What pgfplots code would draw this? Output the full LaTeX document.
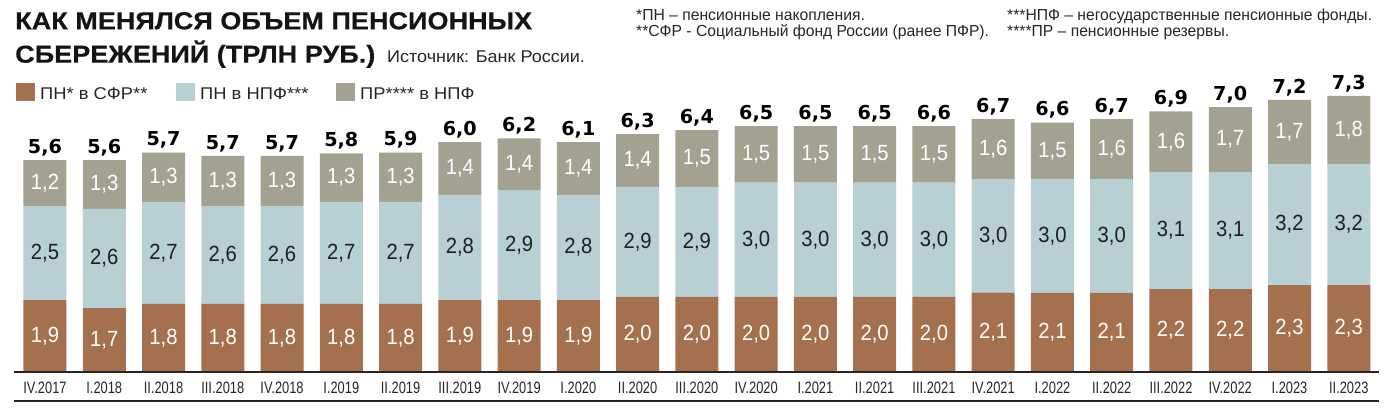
\documentclass[border=0pt]{standalone}
\usepackage{fontspec}
\setmainfont{Liberation Sans}
\newfontfamily\condfont[FakeStretch=0.78]{Liberation Sans}
\newfontfamily\notefont[FakeStretch=0.98]{Liberation Sans}
\newfontfamily\legfont[FakeStretch=1.08]{Liberation Sans}
\newfontfamily\srcfont[FakeStretch=1.06]{Liberation Sans}
\newfontfamily\segfont[FakeStretch=0.92]{Liberation Sans}
\newfontfamily\titlefont[FakeStretch=1.1, BoldFeatures={FakeBold=0.4}]{Liberation Sans}
\newfontfamily\totfont{DejaVu Sans}
\usepackage{pgfplots}
\usepackage{pgfplotstable}
\pgfplotsset{compat=1.18}
\definecolor{cbrown}{HTML}{A5704D}
\definecolor{cblue}{HTML}{B8CFD3}
\definecolor{cgray}{HTML}{A3A190}

\pgfplotstableread{
i  a     b     c     la  lb  lc  lt  tick
0  1.894 2.480 1.215 1,9 2,5 1,2 5,6 IV.2017
1  1.680 2.620 1.290 1,7 2,6 1,3 5,6 I.2018
2  1.789 2.695 1.302 1,8 2,7 1,3 5,7 II.2018
3  1.789 2.589 1.321 1,8 2,6 1,3 5,7 III.2018
4  1.789 2.589 1.321 1,8 2,6 1,3 5,7 IV.2018
5  1.789 2.695 1.287 1,8 2,7 1,3 5,8 I.2019
6  1.789 2.695 1.302 1,8 2,7 1,3 5,9 II.2019
7  1.894 2.774 1.400 1,9 2,8 1,4 6,0 III.2019
8  1.894 2.888 1.384 1,9 2,9 1,4 6,2 IV.2019
9  1.894 2.774 1.400 1,9 2,8 1,4 6,1 I.2020
10 1.980 2.906 1.392 2,0 2,9 1,4 6,3 II.2020
11 1.980 2.906 1.498 2,0 2,9 1,5 6,4 III.2020
12 1.980 3.012 1.498 2,0 3,0 1,5 6,5 IV.2020
13 1.980 3.012 1.498 2,0 3,0 1,5 6,5 I.2021
14 1.980 3.012 1.498 2,0 3,0 1,5 6,5 II.2021
15 1.980 3.012 1.498 2,0 3,0 1,5 6,6 III.2021
16 2.087 3.004 1.585 2,1 3,0 1,6 6,7 IV.2021
17 2.080 3.010 1.490 2,1 3,0 1,5 6,6 I.2022
18 2.080 3.010 1.580 2,1 3,0 1,6 6,7 II.2022
19 2.180 3.090 1.610 2,2 3,1 1,6 6,9 III.2022
20 2.180 3.090 1.720 2,2 3,1 1,7 7,0 IV.2022
21 2.290 3.200 1.690 2,3 3,2 1,7 7,2 I.2023
22 2.290 3.200 1.800 2,3 3,2 1,8 7,3 II.2023
}\data

\pgfplotsset{
  myaxis/.style={
    at={(14pt,44.3pt)}, anchor=south west,
    scale only axis, width=1365pt, height=311.7pt,
    xmin=-0.523, xmax=22.51, ymin=0, ymax=8.235,
    hide axis, clip=false,
  },
  mylab/.style={draw=none, mark=none, nodes near coords,
    point meta=explicit symbolic,
    every node near coord/.append style={inner sep=0pt}},
}

\begin{document}
\begin{tikzpicture}
\path (0,0) rectangle (1399pt,416pt);
% header
\node[anchor=base west, inner sep=0pt, text=black!92, font=\titlefont\bfseries\fontsize{24.6}{28}\selectfont] at (15pt,386.7pt) {КАК МЕНЯЛСЯ ОБЪЕМ ПЕНСИОННЫХ};
\node[anchor=base west, inner sep=0pt, text=black!92, font=\titlefont\bfseries\fontsize{24.6}{28}\selectfont] at (15pt,353.3pt) {СБЕРЕЖЕНИЙ (ТРЛН РУБ.)};
\node[anchor=base west, inner sep=0pt, text=black!85, font=\srcfont\fontsize{17}{20}\selectfont] at (387pt,353.3pt) {Источник: Банк России.};
% footnotes
\begin{scope}[every node/.style={anchor=base west, inner sep=0pt, text=black!85, font=\notefont\fontsize{16}{19}\selectfont}]
\node at (636pt,395.3pt) {*ПН – пенсионные накопления.};
\node at (636pt,379.3pt) {**СФР - Социальный фонд России (ранее ПФР).};
\node at (1007pt,395.3pt) {***НПФ – негосударственные пенсионные фонды.};
\node at (1007pt,379.3pt) {****ПР – пенсионные резервы.};
\end{scope}
% legend
\fill[cbrown] (16pt,315pt) rectangle (35pt,333pt);
\fill[cblue] (176pt,315pt) rectangle (195pt,333pt);
\fill[cgray] (336pt,315pt) rectangle (355pt,333pt);
\begin{scope}[every node/.style={anchor=base west, inner sep=0pt, text=black!85, font=\legfont\fontsize{17}{20}\selectfont}]
\node at (40pt,316.7pt) {ПН* в СФР**};
\node at (200pt,316.7pt) {ПН в НПФ***};
\node at (360pt,316.7pt) {ПР**** в НПФ};
\end{scope}

\begin{axis}[myaxis, ybar stacked, bar width=43pt]
\addplot[fill=cbrown, draw=none] table[x=i, y=a] {\data};
\addplot[fill=cblue, draw=none] table[x=i, y=b] {\data};
\addplot[fill=cgray, draw=none] table[x=i, y=c] {\data};
\end{axis}

\begin{axis}[myaxis]
\addplot[mylab, nodes near coords align={anchor=center},
  every node near coord/.append style={text=white, font=\segfont\fontsize{22}{25}\selectfont}]
  table[x=i, y expr=\thisrow{a}/2, meta=la] {\data};
\addplot[mylab, nodes near coords align={anchor=center},
  every node near coord/.append style={text=black!88, font=\segfont\fontsize{22}{25}\selectfont}]
  table[x=i, y expr=\thisrow{a}+\thisrow{b}/2, meta=lb] {\data};
\addplot[mylab, nodes near coords align={anchor=center},
  every node near coord/.append style={text=white, font=\segfont\fontsize{22}{25}\selectfont}]
  table[x=i, y expr=\thisrow{a}+\thisrow{b}+\thisrow{c}/2, meta=lc] {\data};
\addplot[mylab, nodes near coords align={anchor=base},
  every node near coord/.append style={text=black, font=\totfont\bfseries\fontsize{19.2}{22}\selectfont}]
  table[x=i, y expr=\thisrow{a}+\thisrow{b}+\thisrow{c}+0.177, meta=lt] {\data};
\addplot[mylab, nodes near coords align={anchor=base},
  every node near coord/.append style={text=black!85, font=\condfont\fontsize{16.5}{19}\selectfont}]
  table[x=i, y expr=-0.5707, meta=tick] {\data};
\end{axis}

\draw[line width=2pt, black!85] (14pt,44.3pt) -- (1379pt,44.3pt);
\draw[line width=2.2pt, black!85] (14pt,15pt) -- (1379pt,15pt);
\end{tikzpicture}
\end{document}
